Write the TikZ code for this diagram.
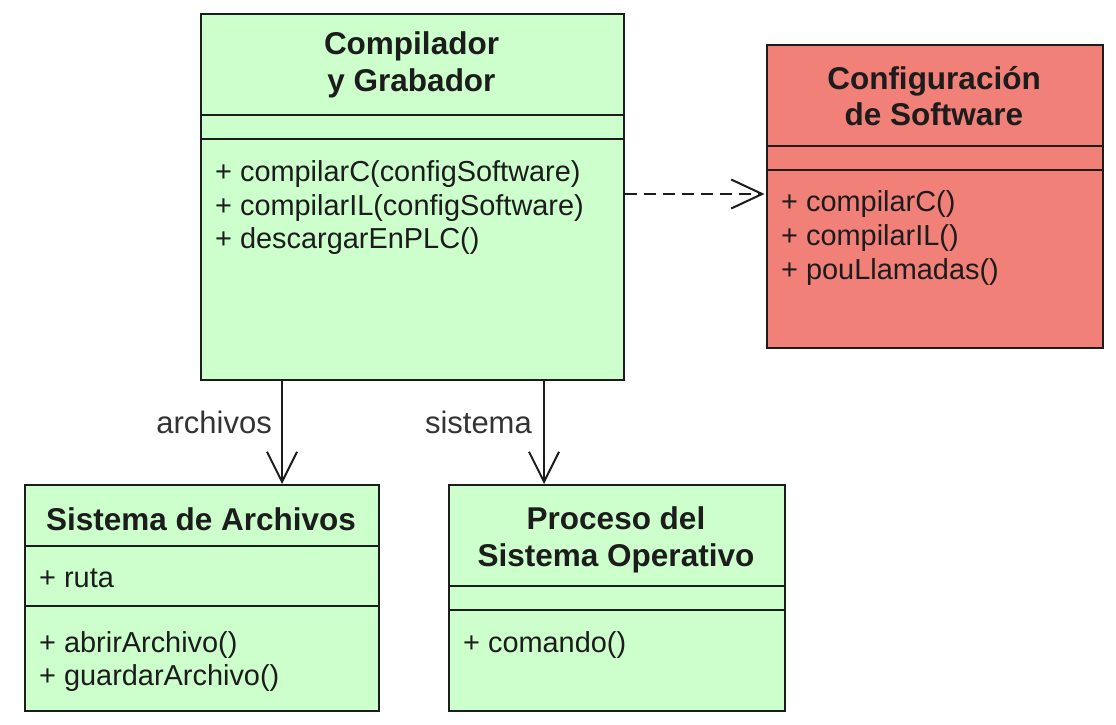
\documentclass[tikz,border=0pt]{standalone}
\usepackage{fontspec}
\setmainfont{Liberation Sans}
\usetikzlibrary{arrows.meta}
\definecolor{umlgreen}{RGB}{204,255,204}
\definecolor{umlred}{RGB}{240,128,120}
\definecolor{umlline}{RGB}{28,28,28}
\begin{document}
\begin{tikzpicture}[x=1pt,y=-1pt,
  cls/.style={draw=umlline, line width=2pt, rectangle, inner sep=0pt, anchor=north west},
  ttl/.style={font=\fontsize{31.5}{36}\selectfont\bfseries, inner sep=0pt, anchor=base, text=umlline},
  mem/.style={font=\fontsize{28.9}{34}\selectfont, inner sep=0pt, anchor=base west, text=umlline},
  lbl/.style={font=\fontsize{31}{34}\selectfont, inner sep=0pt, anchor=base east, text=umlline!90},
  sepline/.style={line width=2pt, draw=umlline},
  assoc/.style={line width=2pt, draw=umlline, -{Straight Barb[length=30pt,width=30pt,line width=2pt]}},
  dep/.style={line width=2pt, draw=umlline, dash pattern=on 12pt off 7pt, -{Straight Barb[length=31pt,width=29pt,line width=2pt,sep]}}
]
\useasboundingbox (0,0) rectangle (1116,725);

% boxes
\node[cls, fill=umlgreen, minimum width=423pt, minimum height=366pt] (comp) at (200,13) {};
\node[cls, fill=umlred,   minimum width=336pt, minimum height=303pt] (cfg)  at (766,44) {};
\node[cls, fill=umlgreen, minimum width=354pt, minimum height=226pt] (sis)  at (24,484) {};
\node[cls, fill=umlgreen, minimum width=336pt, minimum height=226pt] (proc) at (448,484) {};

% compartment separators
\draw[sepline] (200,115) -- (623,115);
\draw[sepline] (200,139) -- (623,139);
\draw[sepline] (766,146) -- (1102,146);
\draw[sepline] (766,170) -- (1102,170);
\draw[sepline] (24,546) -- (378,546);
\draw[sepline] (24,606) -- (378,606);
\draw[sepline] (448,586) -- (784,586);
\draw[sepline] (448,610) -- (784,610);

% Compilador y Grabador
\node[ttl] (compT1) at (411.5,55) {Compilador};
\node[ttl] (compT2) at (411.5,91) {y Grabador};
\node[mem] (compM1) at (215,181) {+ compilarC(configSoftware)};
\node[mem] (compM2) at (215,215) {+ compilarIL(configSoftware)};
\node[mem] (compM3) at (215,248) {+ descargarEnPLC()};

% Configuracion de Software
\node[ttl] (cfgT1) at (934,89) {Configuración};
\node[ttl] (cfgT2) at (934,125) {de Software};
\node[mem] (cfgM1) at (781,211) {+ compilarC()};
\node[mem] (cfgM2) at (781,245) {+ compilarIL()};
\node[mem] (cfgM3) at (781,279) {+ pouLlamadas()};

% Sistema de Archivos
\node[ttl] (sisT1) at (201,530) {Sistema de Archivos};
\node[mem] (sisA1) at (39,587) {+ ruta};
\node[mem] (sisM1) at (39,652) {+ abrirArchivo()};
\node[mem] (sisM2) at (39,685) {+ guardarArchivo()};

% Proceso del Sistema Operativo
\node[ttl] (procT1) at (616,529) {Proceso del};
\node[ttl] (procT2) at (616,566) {Sistema Operativo};
\node[mem] (procM1) at (463,652) {+ comando()};

% connectors
\coordinate (ax) at (282,0);
\coordinate (sx) at (544,0);
\coordinate (dy) at (0,194);
\draw[assoc] (comp.south -| ax) -- (sis.north -| ax);
\draw[assoc] (comp.south -| sx) -- (proc.north -| sx);
\draw[dep] (comp.east |- dy) -- (cfg.west |- dy);

\node[lbl] (lblA) at (272,433) {archivos};
\node[lbl] (lblS) at (532,433) {sistema};
\end{tikzpicture}
\end{document}
